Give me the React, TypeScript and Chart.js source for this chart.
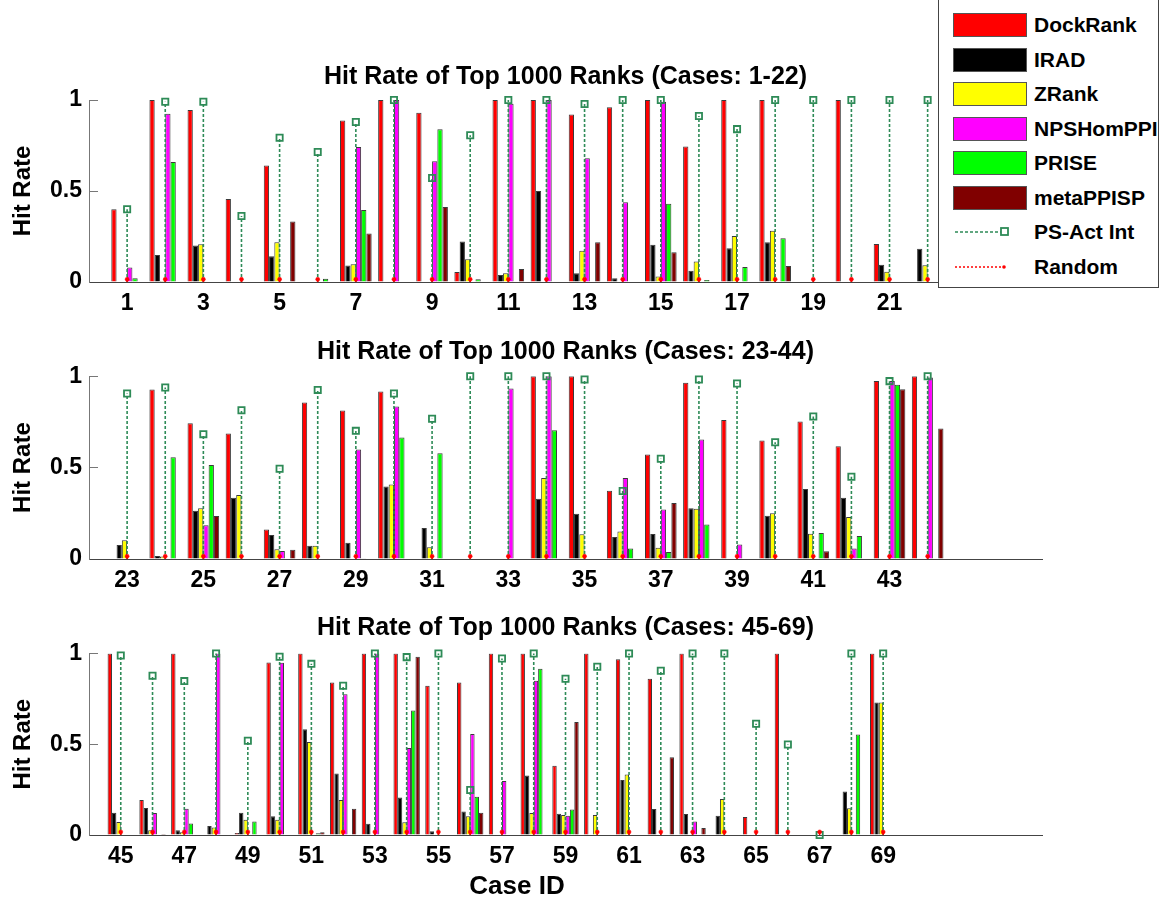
import React, { useEffect, useRef } from "react";
import { Chart, registerables } from "chart.js";
Chart.register(...registerables);

const FONT = '"Liberation Sans", Arial, Helvetica, sans-serif';

const SERIES_NAMES = ["DockRank", "IRAD", "ZRank", "NPSHomPPI", "PRISE", "metaPPISP"];
const SERIES_COLORS = ["#ff0000", "#000000", "#ffff00", "#ff00ff", "#00ff00", "#800000"];
const PS_NAME = "PS-Act Int";
const RAND_NAME = "Random";
const PS_COLOR = "#2e8b57";
const RAND_COLOR = "#ff0000";
const Y_TICKS = [0, 0.5, 1];

// ---------- Panel 1: cases 1-22 ----------
const cases1 = [1, 2, 3, 4, 5, 6, 7, 8, 9, 10, 11, 12, 13, 14, 15, 16, 17, 18, 19, 20, 21, 22];
const xTicks1 = [1, 3, 5, 7, 9, 11, 13, 15, 17, 19, 21];
const dock1 = [0.40, 1.00, 0.945, 0.456, 0.64, 0, 0.888, 1.00, 0.93, 0.055, 1.00, 1.00, 0.921, 0.96, 1.00, 0.745, 1.00, 1.00, 0, 1.00, 0.209, 0];
const irad1 = [0, 0.148, 0.20, 0, 0.141, 0, 0.09, 0, 0, 0.223, 0.038, 0.50, 0.048, 0.02, 0.205, 0.062, 0.185, 0.218, 0, 0, 0.095, 0.183];
const zrank1 = [0, 0.005, 0.207, 0, 0.218, 0, 0.097, 0, 0, 0.125, 0.048, 0, 0.172, 0, 0.03, 0.112, 0.253, 0.282, 0, 0, 0.057, 0.092];
const nps1 = [0.08, 0.925, 0, 0, 0, 0, 0.742, 1.00, 0.663, 0, 0.98, 1.00, 0.68, 0.438, 0.99, 0, 0, 0, 0, 0, 0, 0];
const prise1 = [0.02, 0.66, 0, 0, 0, 0.018, 0.396, 0, 0.839, 0.015, 0, 0, 0, 0, 0.43, 0.011, 0.082, 0.24, 0, 0, 0, 0];
const meta1 = [0, 0, 0, 0, 0.333, 0, 0.267, 0, 0.412, 0, 0.071, 0, 0.218, 0, 0.163, 0, 0, 0.088, 0, 0, 0, 0];
const ps1 = [0.40, 0.99, 0.99, 0.363, 0.793, 0.714, 0.879, 1.00, 0.571, 0.806, 1.00, 1.00, 0.978, 1.00, 1.00, 0.912, 0.84, 1.00, 1.00, 1.00, 1.00, 1.00];
const rand1 = [0.015, 0.015, 0.015, 0.015, 0.015, 0.015, 0.015, 0.015, 0.015, 0.015, 0.015, 0.015, 0.015, 0.015, 0.015, 0.015, 0.015, 0.015, 0.015, 0.015, 0.015, 0.015];

// ---------- Panel 2: cases 23-44 ----------
const cases2 = [23, 24, 25, 26, 27, 28, 29, 30, 31, 32, 33, 34, 35, 36, 37, 38, 39, 40, 41, 42, 43, 44];
const xTicks2 = [23, 25, 27, 29, 31, 33, 35, 37, 39, 41, 43];
const dock2 = [0, 0.927, 0.743, 0.687, 0.162, 0.856, 0.812, 0.916, 0, 0, 0, 1.00, 1.00, 0.373, 0.572, 0.964, 0.76, 0.648, 0.752, 0.617, 0.974, 1.00];
const irad2 = [0.077, 0.016, 0.264, 0.335, 0.131, 0.073, 0.089, 0.397, 0.169, 0, 0, 0.33, 0.248, 0.12, 0.137, 0.277, 0, 0.237, 0.383, 0.335, 0, 0];
const zrank2 = [0.102, 0.013, 0.277, 0.35, 0.053, 0.073, 0, 0.408, 0.064, 0, 0, 0.443, 0.135, 0.151, 0.062, 0.275, 0, 0.25, 0.138, 0.23, 0, 0];
const nps2 = [0, 0, 0.184, 0, 0.044, 0, 0.599, 0.834, 0, 0, 0.933, 1.00, 0, 0.443, 0.271, 0.654, 0.08, 0, 0, 0.058, 0.974, 0.993];
const prise2 = [0, 0.557, 0.514, 0, 0, 0, 0.004, 0.665, 0.579, 0, 0, 0.705, 0, 0.058, 0.038, 0.189, 0, 0, 0.142, 0.126, 0.953, 0];
const meta2 = [0, 0, 0.235, 0, 0.051, 0, 0, 0, 0, 0, 0, 0, 0, 0, 0.306, 0, 0, 0, 0.042, 0, 0.929, 0.714];
const ps2 = [0.905, 0.938, 0.683, 0.814, 0.494, 0.925, 0.701, 0.905, 0.767, 1.00, 1.00, 1.00, 0.982, 0.372, 0.548, 0.982, 0.96, 0.639, 0.78, 0.45, 0.973, 1.00];
const rand2 = [0.015, 0.015, 0.015, 0.015, 0.015, 0.015, 0.015, 0.015, 0.015, 0.015, 0.015, 0.015, 0.015, 0.015, 0.015, 0.015, 0.015, 0.015, 0.015, 0.015, 0.015, 0.015];

// ---------- Panel 3: cases 45-69 ----------
const cases3 = [45, 46, 47, 48, 49, 50, 51, 52, 53, 54, 55, 56, 57, 58, 59, 60, 61, 62, 63, 64, 65, 66, 67, 68, 69];
const xTicks3 = [45, 47, 49, 51, 53, 55, 57, 59, 61, 63, 65, 67, 69];
const dock3 = [1.00, 0.193, 1.00, 0, 0.011, 0.95, 1.00, 0.84, 1.00, 1.00, 0.822, 0.84, 1.00, 1.00, 0.382, 1.00, 0.969, 0.861, 1.00, 0, 0.099, 1.00, 0, 0, 1.00];
const irad3 = [0.123, 0.149, 0.026, 0.05, 0.123, 0.103, 0.582, 0.339, 0.062, 0.206, 0.02, 0.13, 0, 0.328, 0.117, 0, 0.303, 0.143, 0.116, 0.106, 0, 0, 0, 0.24, 0.73];
const zrank3 = [0.072, 0.026, 0.015, 0.042, 0.084, 0.084, 0.512, 0.193, 0, 0.07, 0, 0.103, 0, 0.121, 0.11, 0.11, 0.334, 0, 0, 0.198, 0, 0, 0, 0.147, 0.73];
const nps3 = [0, 0.121, 0.145, 1.00, 0, 0.949, 0, 0.776, 1.00, 0.479, 0, 0.556, 0.297, 0.85, 0.106, 0, 0, 0, 0.075, 0, 0, 0, 0, 0, 0];
const prise3 = [0, 0, 0.064, 0, 0.075, 0, 0.009, 0, 0, 0.686, 0, 0.211, 0, 0.916, 0.141, 0, 0, 0, 0, 0, 0, 0, 0, 0.554, 0];
const meta3 = [0, 0.006, 0, 0, 0, 0, 0.015, 0.145, 0, 0.982, 0, 0.123, 0, 0, 0.622, 0, 0, 0.429, 0.039, 0, 0, 0, 0, 0, 0];
const ps3 = [0.989, 0.877, 0.848, 1.00, 0.519, 0.982, 0.943, 0.822, 1.00, 0.98, 1.00, 0.248, 0.972, 1.00, 0.861, 0.927, 1.00, 0.905, 1.00, 1.00, 0.613, 0.499, 0, 1.00, 1.00];
const rand3 = [0.017, 0.017, 0.017, 0.017, 0.017, 0.017, 0.017, 0.017, 0.017, 0.017, 0.017, 0.017, 0.017, 0.017, 0.017, 0.017, 0.017, 0.017, 0.017, 0.017, 0.017, 0.017, 0.017, 0.017, 0.017];

type PanelCfg = {
  title: string;
  cases: number[];
  xTicks: number[];
  xMin: number;
  xMax: number;
  series: number[][];
  ps: number[];
  rand: number[];
  top: number;
  height: number;
  padTop: number;
  padBottom: number;
  xAxisH: number;
};

const panels: PanelCfg[] = [
  {
    title: "Hit Rate of Top 1000 Ranks (Cases: 1-22)",
    cases: cases1, xTicks: xTicks1, xMin: 0, xMax: 25,
    series: [dock1, irad1, zrank1, nps1, prise1, meta1], ps: ps1, rand: rand1,
    top: 50, height: 272, padTop: 12.5, padBottom: 7.5, xAxisH: 40,
  },
  {
    title: "Hit Rate of Top 1000 Ranks (Cases: 23-44)",
    cases: cases2, xTicks: xTicks2, xMin: 22, xMax: 47,
    series: [dock2, irad2, zrank2, nps2, prise2, meta2], ps: ps2, rand: rand2,
    top: 326, height: 273, padTop: 11.1, padBottom: 9.1, xAxisH: 40,
  },
  {
    title: "Hit Rate of Top 1000 Ranks (Cases: 45-69)",
    cases: cases3, xTicks: xTicks3, xMin: 44, xMax: 74,
    series: [dock3, irad3, zrank3, nps3, prise3, meta3], ps: ps3, rand: rand3,
    top: 603, height: 282, padTop: 10.1, padBottom: 10.4, xAxisH: 50,
  },
];

const stemData = (cases: number[], vals: number[]) =>
  cases.flatMap((c, i) => [
    { x: c, y: 0 },
    { x: c, y: vals[i] },
    { x: c, y: null as any },
  ]);

function Panel({ cfg }: { cfg: PanelCfg }) {
  const ref = useRef<HTMLCanvasElement>(null);
  useEffect(() => {
    if (!ref.current) return;
    const bars = cfg.series.map((vals, k) => ({
      type: "bar" as const,
      label: SERIES_NAMES[k],
      data: cfg.cases.map((c, i) => ({ x: c, y: vals[i] })),
      backgroundColor: SERIES_COLORS[k],
      borderColor: "#3a3a3a",
      borderWidth: 1,
      categoryPercentage: 0.83,
      barPercentage: 1,
      order: 2,
    }));
    const psSet: any = {
      type: "line",
      label: PS_NAME,
      data: stemData(cfg.cases, cfg.ps),
      borderColor: PS_COLOR,
      borderWidth: 1.6,
      borderDash: [3, 2],
      spanGaps: false,
      tension: 0,
      pointStyle: "rect",
      pointRadius: (ctx: any) => (ctx.dataIndex % 3 === 1 ? 4.4 : 0),
      pointBorderColor: PS_COLOR,
      pointBackgroundColor: "rgba(255,255,255,0)",
      pointBorderWidth: 1.8,
      clip: false,
      order: 1,
    };
    const randSet: any = {
      type: "line",
      label: RAND_NAME,
      data: stemData(cfg.cases, cfg.rand),
      borderColor: RAND_COLOR,
      borderWidth: 1.4,
      borderDash: [2, 2],
      spanGaps: false,
      tension: 0,
      pointStyle: "circle",
      pointRadius: (ctx: any) => (ctx.dataIndex % 3 === 1 ? 2 : 0),
      pointBorderColor: RAND_COLOR,
      pointBackgroundColor: RAND_COLOR,
      pointBorderWidth: 0.5,
      clip: false,
      order: 0,
    };
    const tickFont = { family: FONT, size: 23, weight: "bold" as const };
    const chart = new Chart(ref.current, {
      type: "bar",
      data: { datasets: [...bars, psSet, randSet] as any },
      options: {
        animation: false,
        responsive: true,
        maintainAspectRatio: false,
        layout: { padding: { left: 0, right: 119, top: 0, bottom: 0 } },
        plugins: {
          legend: { display: false },
          tooltip: { enabled: false },
          title: {
            display: true,
            text: cfg.title,
            fullSize: false,
            color: "#000",
            font: { family: FONT, size: 25, weight: "bold" },
            padding: { top: cfg.padTop, bottom: cfg.padBottom },
          },
        },
        scales: {
          x: {
            type: "linear",
            min: cfg.xMin,
            max: cfg.xMax,
            offset: false,
            afterBuildTicks: (s: any) => {
              s.ticks = cfg.xTicks.map((v) => ({ value: v }));
            },
            afterFit: (s: any) => {
              s.height = cfg.xAxisH;
            },
            ticks: {
              autoSkip: false,
              maxRotation: 0,
              minRotation: 0,
              padding: 8,
              color: "#000",
              font: tickFont,
              callback: (v: any) => String(v),
            },
            grid: { display: true, drawOnChartArea: false, drawTicks: false, offset: false },
            border: { display: true, color: "#444", width: 1 },
          },
          y: {
            type: "linear",
            min: 0,
            max: 1,
            afterBuildTicks: (s: any) => {
              s.ticks = Y_TICKS.map((v) => ({ value: v }));
            },
            afterFit: (s: any) => {
              s.width = 89;
            },
            ticks: {
              padding: 16,
              color: "#000",
              font: tickFont,
              callback: (v: any) => String(v),
            },
            grid: { drawOnChartArea: false, drawTicks: true, tickLength: -9, color: "#777" },
            border: { display: true, color: "#777", width: 1 },
            title: {
              display: true,
              text: "Hit Rate",
              color: "#000",
              font: { family: FONT, size: 24, weight: "bold" },
              padding: 9,
            },
          },
        },
      } as any,
    });
    return () => chart.destroy();
  }, [cfg]);
  return (
    <div style={{ position: "absolute", left: 0, top: cfg.top, width: 1161, height: cfg.height }}>
      <canvas ref={ref} />
    </div>
  );
}

const legendRowsY = [25, 59.5, 94, 128.5, 163, 197.5];

function Legend() {
  return (
    <div
      style={{
        position: "absolute",
        left: 938,
        top: -1,
        width: 219,
        height: 287,
        border: "1px solid #444",
        background: "#fff",
        fontFamily: FONT,
        fontWeight: "bold",
        fontSize: 21,
        color: "#000",
        zIndex: 5,
      }}
    >
      {SERIES_NAMES.map((n, k) => (
        <React.Fragment key={n}>
          <div
            style={{
              position: "absolute",
              left: 14,
              top: legendRowsY[k] - 12,
              width: 72,
              height: 22,
              background: SERIES_COLORS[k],
              border: "1px solid #555",
            }}
          />
          <div style={{ position: "absolute", left: 95, top: legendRowsY[k] - 14, lineHeight: "28px", whiteSpace: "nowrap" }}>{n}</div>
        </React.Fragment>
      ))}
      <svg style={{ position: "absolute", left: 14, top: 225 }} width={62} height={14}>
        <line x1={2} y1={7} x2={48} y2={7} stroke={PS_COLOR} strokeWidth={1.6} strokeDasharray="3 2" />
        <rect x={48} y={3} width={7} height={7} fill="none" stroke={PS_COLOR} strokeWidth={1.8} />
      </svg>
      <div style={{ position: "absolute", left: 95, top: 232 - 14, lineHeight: "28px", whiteSpace: "nowrap" }}>{PS_NAME}</div>
      <svg style={{ position: "absolute", left: 14, top: 260 }} width={62} height={14}>
        <line x1={2} y1={7} x2={50} y2={7} stroke={RAND_COLOR} strokeWidth={1.4} strokeDasharray="2 2" />
        <circle cx={51} cy={7} r={1.8} fill={RAND_COLOR} />
      </svg>
      <div style={{ position: "absolute", left: 95, top: 267 - 14, lineHeight: "28px", whiteSpace: "nowrap" }}>{RAND_NAME}</div>
    </div>
  );
}

export default function App() {
  return (
    <div style={{ position: "absolute", left: 0, top: 0, width: 1161, height: 897, background: "#fff", overflow: "hidden" }}>
      {panels.map((p, i) => (
        <Panel key={i} cfg={p} />
      ))}
      <Legend />
      <div
        style={{
          position: "absolute",
          left: 417,
          width: 200,
          top: 870,
          lineHeight: "30px",
          textAlign: "center",
          fontFamily: FONT,
          fontWeight: "bold",
          fontSize: 26,
          color: "#000",
        }}
      >
        Case ID
      </div>
    </div>
  );
}
